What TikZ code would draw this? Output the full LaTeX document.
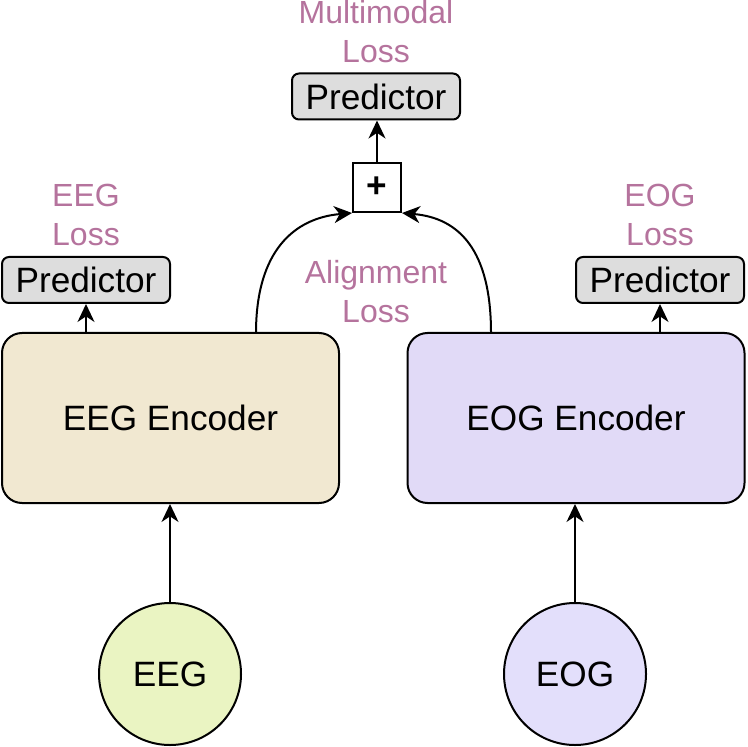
\documentclass[tikz,border=0pt]{standalone}
\usepackage{fontspec}
\setmainfont{Liberation Sans}
\usetikzlibrary{arrows.meta}
\definecolor{mlpink}{HTML}{B5739D}
\definecolor{mlbgeeg}{HTML}{F1E8D1}
\definecolor{mlbgeog}{HTML}{E1DAF7}
\definecolor{mlbgeegin}{HTML}{EAF4C2}
\definecolor{mlbgeogin}{HTML}{E3DFFB}
\definecolor{mlgray}{HTML}{DDDDDD}

\begin{document}
\begin{tikzpicture}[x=0.5pt, y=0.5pt,
  font=\fontsize{17.6}{21}\selectfont,
  box/.style={draw, line width=1pt, align=center, inner sep=0pt},
  enc/.style={box, rounded corners=10pt, minimum width=168.5pt, minimum height=85pt},
  pred/.style={box, fill=mlgray, rounded corners=3.5pt, minimum width=84pt, minimum height=23pt},
  sig/.style={box, circle, minimum size=71pt},
  sum/.style={box, fill=white, minimum width=24pt, minimum height=24.5pt},
  loss/.style={align=center, text=mlpink, font=\fontsize{16}{19.5}\selectfont},
  flow/.style={-{Stealth[length=9pt, width=8.5pt, inset=2.8pt]}, line width=1pt}
]
\useasboundingbox (0,0) rectangle (747,-747);
% ================= inputs =================
\node[sig, fill=mlbgeegin] (eeg) at (170,-674) {EEG};
\node[sig, fill=mlbgeogin] (eog) at (575,-674) {EOG};
% ================= encoders =================
\node[enc, fill=mlbgeeg] (eegenc) at (170.5,-418) {EEG Encoder};
\node[enc, fill=mlbgeog] (eogenc) at (576,-418) {EOG Encoder};
% ================= predictors =================
\node[pred] (eegpred) at (86,-280) {Predictor};
\node[pred] (eogpred) at (660,-280) {Predictor};
\node[pred] (mmpred) at (376,-96.5) {Predictor};
\node[sum] (plus) at (377,-187.5) {\textbf{+}};
% ================= losses =================
\node[loss] (eegloss) at (86,-215) {EEG\\Loss};
\node[loss] (eogloss) at (660,-215) {EOG\\Loss};
\node[loss] (mmloss) at (376,-32) {Multimodal\\Loss};
\node[loss] (alignloss) at (376,-292) {Alignment\\Loss};
% ================= flow =================
\coordinate (eegout) at (256,-333);
\coordinate (eogout) at (491,-333);
\draw[flow] (eeg.north) -- (eeg.north |- eegenc.south);
\draw[flow] (eog.north) -- (eog.north |- eogenc.south);
\draw[flow] (eegpred.south |- eegenc.north) -- (eegpred.south);
\draw[flow] (eogpred.south |- eogenc.north) -- (eogpred.south);
\draw[flow] (eegout) .. controls (256,-250) and (295,-218) .. (plus.south west);
\draw[flow] (eogout) .. controls (491,-250) and (459,-218) .. (plus.south east);
\draw[flow] (plus.north) -- (plus.north |- mmpred.south);
\end{tikzpicture}
\end{document}
